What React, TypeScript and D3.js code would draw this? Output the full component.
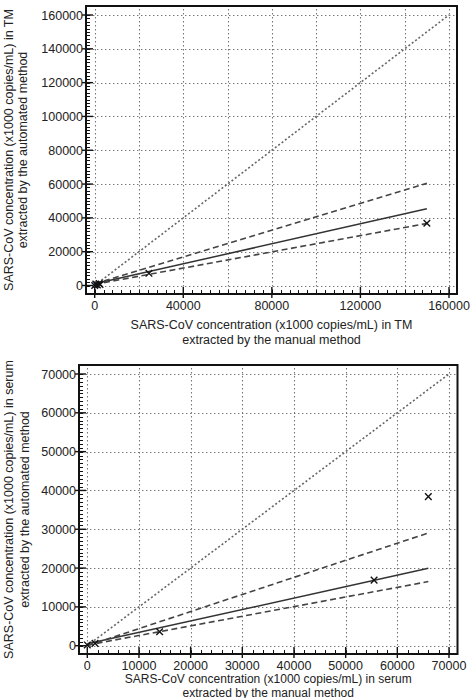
import React, { useEffect, useRef } from 'react';
import * as d3 from 'd3';

// Transport medium (TM): manual vs automated extraction
const tmManual = [0, 500, 1200, 2000, 2400, 24500, 150000];
const tmAutomated = [0, 800, 300, 1200, 600, 7200, 36800];
const tmTicks = [0, 20000, 40000, 60000, 80000, 100000, 120000, 140000, 160000];
const tmXLabels = [0, 40000, 80000, 120000, 160000];
const tmYLabels = [0, 20000, 40000, 60000, 80000, 100000, 120000, 140000, 160000];

// Serum: manual vs automated extraction
const serumManual = [0, 1500, 14000, 55500, 66000];
const serumAutomated = [200, 600, 3600, 16900, 38400];
const serumTicks = [0, 10000, 20000, 30000, 40000, 50000, 60000, 70000];

// regression line, then upper and lower confidence lines
const lineKinds = ['fit', 'upper', 'lower'];
const tmIntercept = [1000, 1000, 700];
const tmSlope = [0.296, 0.396, 0.24];
const serumIntercept = [480, 0, 150];
const serumSlope = [0.295, 0.44, 0.248];

const font = '"Liberation Sans", Arial, Helvetica, sans-serif';

// snap 1px lines onto the pixel grid
const crisp = v => Math.round(v) + 0.5;

const drawPanel = (svg, p) => {
  const id = `clip-${p.id}`;
  svg.append('defs').append('clipPath').attr('id', id)
    .append('rect').attr('x', 0).attr('y', p.clipTop).attr('width', 472).attr('height', p.clipHeight);
  const g = svg.append('g').attr('clip-path', `url(#${id})`);

  const x = d3.scaleLinear().domain([0, p.max]).range(p.xRange);
  const y = d3.scaleLinear().domain([0, p.max]).range(p.yRange);
  const [fx0, fx1] = p.frameX;
  const [fy0, fy1] = p.frameY;

  // dotted grid, built from short dot segments
  const dot = 1.4;
  const gap = 4;
  let gridPath = '';
  p.ticks.forEach(t => {
    const gx = crisp(x(t));
    d3.range(fy0 + 3, fy1 - 2, gap).forEach(yy => { gridPath += `M${gx},${yy}v${dot}`; });
    const gy = crisp(y(t));
    d3.range(fx0 + 3, fx1 - 2, gap).forEach(xx => { gridPath += `M${xx},${gy}h${dot}`; });
  });
  g.append('path')
    .attr('d', gridPath)
    .attr('fill', 'none').attr('stroke', '#777').attr('stroke-width', 1.1);

  // minor ticks (inside the frame)
  const ticks = g.append('g').attr('stroke', '#111');
  ticks.selectAll('line.xm').data(d3.range(0, p.max + 1, p.xMinor)).enter().append('line').attr('class', 'xm')
    .attr('x1', d => crisp(x(d))).attr('x2', d => crisp(x(d)))
    .attr('y1', fy1).attr('y2', fy1 - 4)
    .attr('stroke-width', 1);
  ticks.selectAll('line.ym').data(d3.range(0, p.max + 1, p.yMinor)).enter().append('line').attr('class', 'ym')
    .attr('x1', fx0).attr('x2', fx0 + 4)
    .attr('y1', d => crisp(y(d))).attr('y2', d => crisp(y(d)))
    .attr('stroke-width', 1);

  // major ticks crossing the frame
  ticks.selectAll('line.xM').data(p.xLabels).enter().append('line').attr('class', 'xM')
    .attr('x1', d => x(d)).attr('x2', d => x(d))
    .attr('y1', fy1 + 4).attr('y2', fy1 - 7)
    .attr('stroke-width', 1.4);
  ticks.selectAll('line.yM').data(p.yLabels).enter().append('line').attr('class', 'yM')
    .attr('x1', fx0 - 4).attr('x2', fx0 + 7)
    .attr('y1', d => y(d)).attr('y2', d => y(d))
    .attr('stroke-width', 1.4);

  // line of identity
  g.append('line')
    .attr('x1', x(0)).attr('y1', y(0)).attr('x2', x(p.max)).attr('y2', y(p.max))
    .attr('stroke', '#666').attr('stroke-width', 1.6).attr('stroke-dasharray', '2,2.2');

  // regression and confidence lines
  const xEnd = d3.max(p.manual);
  const lineGen = d3.line().x(d => x(d[0])).y(d => y(d[1]));
  lineKinds.forEach((kind, i) => {
    const a = p.intercept[i];
    const b = p.slope[i];
    g.append('path')
      .datum([[0, a], [xEnd, a + b * xEnd]])
      .attr('d', lineGen)
      .attr('fill', 'none')
      .attr('stroke', kind === 'fit' ? '#333' : '#444')
      .attr('stroke-width', kind === 'fit' ? 1.5 : 1.6)
      .attr('stroke-dasharray', kind === 'fit' ? null : '6,3.5');
  });

  // observations as x markers
  const s = 3.3;
  const pts = p.manual.map((m, i) => [m, p.automated[i]]);
  g.selectAll('path.pt').data(pts).enter().append('path').attr('class', 'pt')
    .attr('transform', d => `translate(${x(d[0])},${y(d[1])})`)
    .attr('d', `M${-s},${-s}L${s},${s}M${-s},${s}L${s},${-s}`)
    .attr('stroke', '#111').attr('stroke-width', 1.4);

  // frame
  g.append('rect')
    .attr('x', fx0).attr('y', fy0).attr('width', fx1 - fx0).attr('height', fy1 - fy0)
    .attr('fill', 'none').attr('stroke', '#111').attr('stroke-width', 2);

  // tick labels
  g.selectAll('text.xl').data(p.xLabels).enter().append('text').attr('class', 'xl')
    .attr('x', d => x(d)).attr('y', fy1 + 15.5)
    .attr('text-anchor', 'middle')
    .attr('font-family', font).attr('font-size', 12.5).attr('fill', '#222')
    .text(d => d);
  g.selectAll('text.yl').data(p.yLabels).enter().append('text').attr('class', 'yl')
    .attr('x', fx0 - 3).attr('y', d => y(d) + 4.5)
    .attr('text-anchor', 'end')
    .attr('font-family', font).attr('font-size', 12.5).attr('fill', '#222')
    .text(d => d);

  // axis titles
  const cx = (fx0 + fx1) / 2;
  const cy = (fy0 + fy1) / 2;
  p.xTitle.forEach((t, i) => {
    g.append('text')
      .attr('x', cx).attr('y', fy1 + p.xTitleTop + i * p.xTitleGap)
      .attr('text-anchor', 'middle')
      .attr('font-family', font).attr('font-size', p.xTitleSize).attr('fill', '#222')
      .text(t);
  });
  p.yTitle.forEach((t, i) => {
    g.append('text')
      .attr('transform', `translate(${13 + i * p.yTitleGap},${cy}) rotate(-90)`)
      .attr('text-anchor', 'middle')
      .attr('font-family', font).attr('font-size', 12.5).attr('fill', '#222')
      .text(t);
  });
};

const App = () => {
  const svgRef = useRef(null);

  useEffect(() => {
    document.body.style.margin = '0';
    const svg = d3.select(svgRef.current);
    svg.selectAll('*').remove();

    svg.append('rect').attr('width', 472).attr('height', 698).attr('fill', '#fff');

    drawPanel(svg, {
      id: 'tm',
      clipTop: 0,
      clipHeight: 352,
      max: 160000,
      xRange: [94.7, 449],
      yRange: [285.5, 15],
      frameX: [86, 457],
      frameY: [6, 294],
      ticks: tmTicks,
      xLabels: tmXLabels,
      yLabels: tmYLabels,
      xMinor: 4000,
      yMinor: 2000,
      manual: tmManual,
      automated: tmAutomated,
      intercept: tmIntercept,
      slope: tmSlope,
      xTitle: ['SARS-CoV concentration (x1000 copies/mL) in TM', 'extracted by the manual method'],
      xTitleTop: 35,
      xTitleGap: 15,
      xTitleSize: 12.5,
      yTitle: ['SARS-CoV concentration (x1000 copies/mL) in TM', 'extracted by the automated method'],
      yTitleGap: 14,
    });

    drawPanel(svg, {
      id: 'serum',
      clipTop: 356,
      clipHeight: 342,
      max: 70000,
      xRange: [87.3, 449],
      yRange: [645.7, 374],
      frameX: [79, 457.5],
      frameY: [365, 654],
      ticks: serumTicks,
      xLabels: serumTicks,
      yLabels: serumTicks,
      xMinor: 2000,
      yMinor: 1000,
      manual: serumManual,
      automated: serumAutomated,
      intercept: serumIntercept,
      slope: serumSlope,
      xTitle: ['SARS-CoV concentration (x1000 copies/mL) in serum', 'extracted by the manual method'],
      xTitleTop: 29,
      xTitleGap: 13.5,
      xTitleSize: 12,
      yTitle: ['SARS-CoV concentration (x1000 copies/mL) in serum', 'extracted by the automated method'],
      yTitleGap: 16,
    });
  }, []);

  return (
    <svg ref={svgRef} width={472} height={698} style={{ display: 'block', overflow: 'hidden' }} />
  );
};

export default App;
